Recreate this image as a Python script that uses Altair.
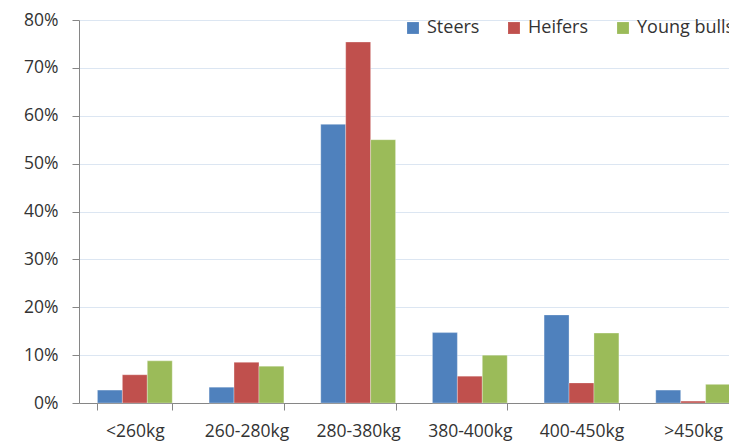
import altair as alt
import pandas as pd

categories = ["<260kg", "260-280kg", "280-380kg", "380-400kg", "400-450kg", ">450kg"]
series = ["Steers", "Heifers", "Young bulls"]
steers = [2.7, 3.3, 58.2, 14.7, 18.4, 2.7]
heifers = [5.9, 8.5, 75.4, 5.6, 4.2, 0.4]
young_bulls = [8.8, 7.7, 55.0, 10.0, 14.6, 3.9]
colors = ["#4F81BD", "#C0504D", "#9BBB59"]

rows = []
for s, vals in zip(series, [steers, heifers, young_bulls]):
    for c, v in zip(categories, vals):
        rows.append({"category": c, "series": s, "value": v / 100})
df = pd.DataFrame(rows)

FONT = "Open Sans"

chart = alt.Chart(df).mark_bar(stroke="#FFFFFF", strokeOpacity=0.5, strokeWidth=0.6).encode(
    x=alt.X("category:N", sort=categories, title=None,
            scale=alt.Scale(paddingInner=0.33, paddingOuter=0.165, range=[0, 670]),
            axis=alt.Axis(labelAngle=0, tickBand="extent", domainColor="#868686",
                          tickColor="#868686", tickSize=7, labelPadding=12,
                          labelFontSize=17.5, labelFont=FONT, labelColor="#333333",
                          grid=False)),
    xOffset=alt.XOffset("series:N", sort=series),
    y=alt.Y("value:Q", title=None,
            scale=alt.Scale(domain=[0, 0.8], nice=False),
            axis=alt.Axis(format=".0%", values=[i / 10 for i in range(9)],
                          domainColor="#868686", tickColor="#868686", tickSize=7,
                          labelPadding=14, labelFontSize=17.5, labelFont=FONT,
                          labelColor="#333333", gridColor="#DCE6F2")),
    color=alt.Color("series:N", sort=series,
                    scale=alt.Scale(domain=series, range=colors),
                    legend=alt.Legend(title=None, orient="none", direction="horizontal",
                                      legendX=325, legendY=-1, symbolType="square",
                                      symbolSize=140, symbolStrokeWidth=0,
                                      labelFontSize=18, labelFont=FONT,
                                      labelColor="#333333", columnPadding=25,
                                      labelOffset=5, padding=0)),
).properties(
    width=650, height=383,
    autosize=alt.AutoSizeParams(type="none"),
    padding={"left": 71, "top": 12, "right": 0, "bottom": 46},
).configure_view(stroke=None)

chart.save("out.html", embed_options={"renderer": "svg", "actions": False})
